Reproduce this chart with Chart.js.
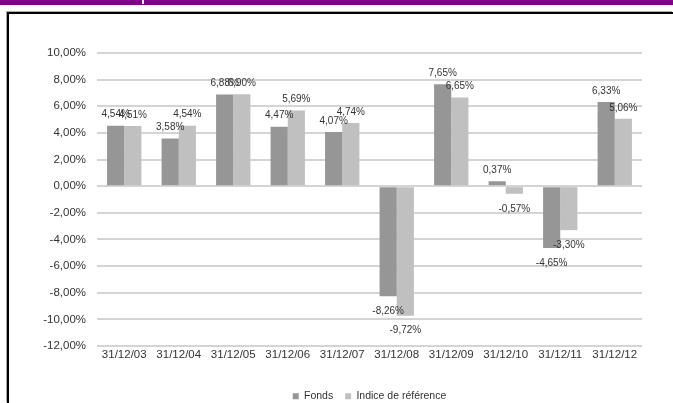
<!DOCTYPE html>
<html>
<head>
<meta charset="utf-8">
<script src="https://cdn.jsdelivr.net/npm/chart.js@4.4.0/dist/chart.umd.min.js"></script>
<style>
  html, body { margin: 0; padding: 0; background: #fff; overflow: hidden; width: 673px; height: 403px; }
  #band { position: absolute; left: 0; top: 0; width: 673px; height: 5px; background: #800080; }
  #tick { position: absolute; left: 142px; top: 0; width: 2px; height: 4px; background: #fff; }
  #frame { position: absolute; left: 7px; top: 12px; width: 666px; height: 391px; box-sizing: border-box;
           border-top: 2px solid #000; border-left: 2px solid #000; box-shadow: -1px -1px 0 #aaa; }
  #chart { position: absolute; left: 0; top: 0; }
</style>
</head>
<body>
<div id="band"></div>
<div id="tick"></div>
<div id="frame"></div>
<canvas id="chart" width="673" height="403"></canvas>
<script>
// Chart data
var categories = ["31/12/03", "31/12/04", "31/12/05", "31/12/06", "31/12/07", "31/12/08", "31/12/09", "31/12/10", "31/12/11", "31/12/12"];
var fonds = [4.54, 3.58, 6.88, 4.47, 4.07, -8.26, 7.65, 0.37, -4.65, 6.33];
var indice = [4.51, 4.54, 6.90, 5.69, 4.74, -9.72, 6.65, -0.57, -3.30, 5.06];
var yTicks = [-12, -10, -8, -6, -4, -2, 0, 2, 4, 6, 8, 10];

var textColor = '#333333';
var fontFamily = '"Liberation Sans", Arial, sans-serif';

function pct(v) {
    return v.toFixed(2).replace('.', ',') + '%';
}

// value labels above / below each bar
var barLabels = {
    id: 'barLabels',
    afterDatasetsDraw: function(chart) {
        var ctx = chart.ctx;
        ctx.save();
        ctx.font = '10px ' + fontFamily;
        ctx.fillStyle = textColor;
        ctx.textAlign = 'center';
        ctx.textBaseline = 'middle';
        chart.data.datasets.forEach(function(ds, i) {
            chart.getDatasetMeta(i).data.forEach(function(bar, j) {
                var v = ds.data[j];
                var y = v >= 0 ? bar.y - 11 : bar.y + 15;
                ctx.fillText(pct(v), bar.x, y);
            });
        });
        ctx.restore();
    }
};

var ctx = document.getElementById('chart');

var chartData = {
    labels: categories,
    datasets: [{
        label: 'Fonds',
        data: fonds,
        backgroundColor: '#969696'
    }, {
        label: 'Indice de référence',
        data: indice,
        backgroundColor: '#c0c0c0'
    }]
};

var chartOptions = {
    responsive: false,
    animation: false,
    devicePixelRatio: 1,
    layout: { padding: { left: 0, right: 31, top: 53, bottom: 0 } },
    datasets: { bar: { barPercentage: 1, categoryPercentage: 0.63 } },
    plugins: {
        tooltip: { enabled: false },
        legend: {
            position: 'bottom',
            fullSize: false,
            maxHeight: 24,
            labels: {
                boxWidth: 6,
                boxHeight: 6,
                padding: 12,
                color: textColor,
                font: { family: fontFamily, size: 10.5 }
            }
        }
    },
    scales: {
        x: {
            grid: { display: false },
            border: { display: false },
            ticks: {
                padding: -6,
                maxRotation: 0,
                color: textColor,
                font: { family: fontFamily, size: 11.5 }
            },
            afterFit: function(scale) { scale.height = 33; }
        },
        y: {
            min: -12,
            max: 10,
            grid: { color: '#d4d4d4', lineWidth: 2, drawTicks: false },
            border: { display: false },
            afterBuildTicks: function(scale) {
                scale.ticks = yTicks.map(function(v) { return { value: v }; });
            },
            ticks: {
                padding: 11,
                color: textColor,
                font: { family: fontFamily, size: 11.5 },
                callback: function(v) { return pct(v); }
            },
            afterFit: function(scale) { scale.width = 97; }
        }
    }
};

var config = {
    type: 'bar',
    data: chartData,
    options: chartOptions,
    plugins: [barLabels]
};

// Create the chart
var barChart = new Chart(ctx, config);
</script>
</body>
</html>
